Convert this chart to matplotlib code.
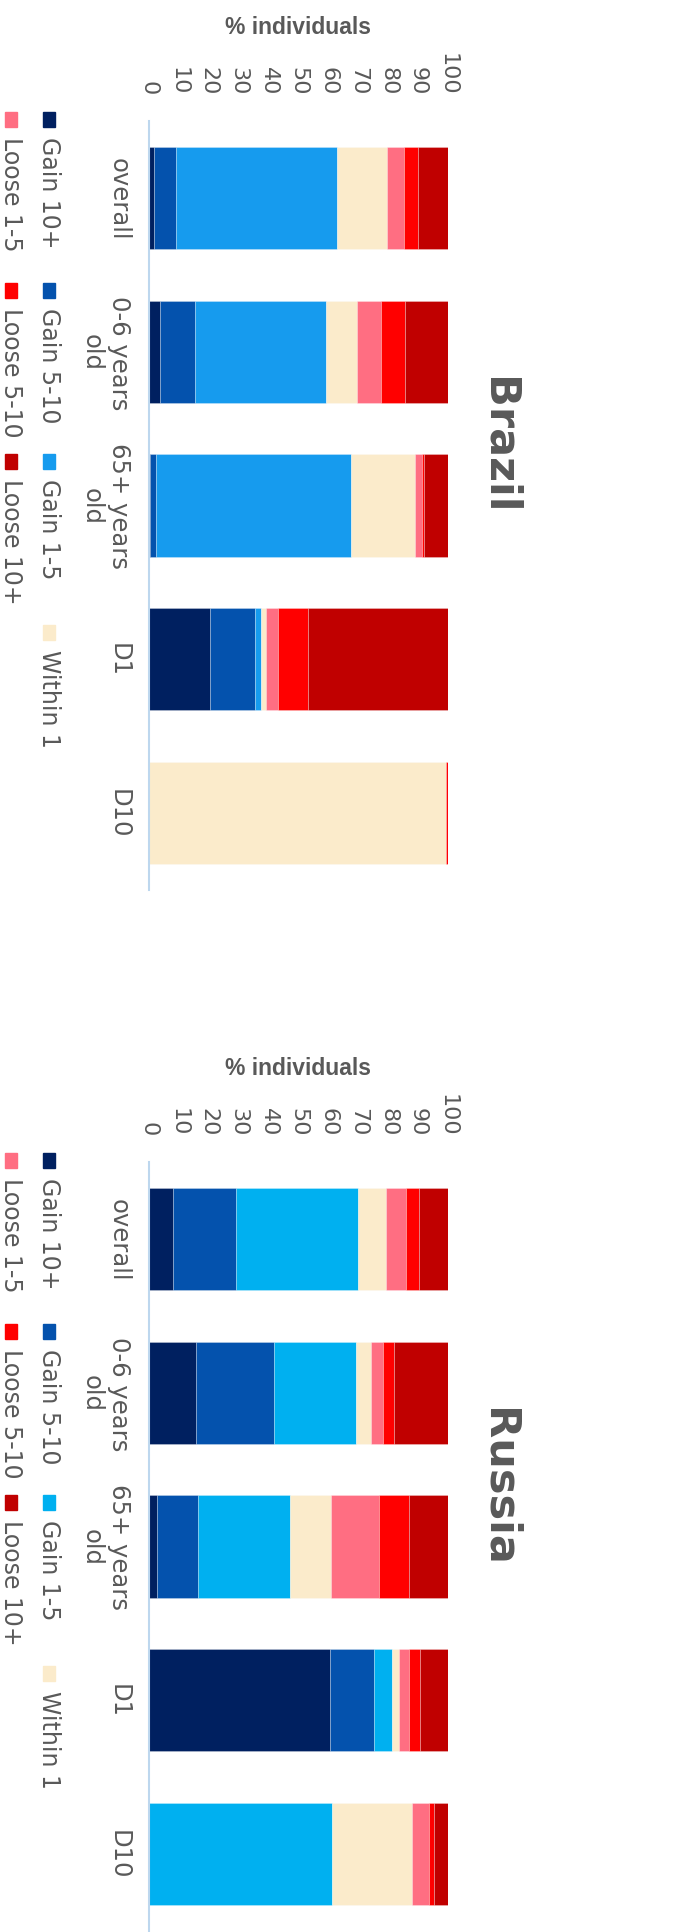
import matplotlib
matplotlib.use("Agg")
import matplotlib.pyplot as plt
import numpy as np
from matplotlib import font_manager
from matplotlib.patches import Rectangle

series = ["Gain 10+", "Gain 5-10", "Gain 1-5", "Within 1", "Loose 1-5", "Loose 5-10", "Loose 10+"]
categories = ["overall", "0-6 years\nold", "65+ years\nold", "D1", "D10"]
ticks = [0, 10, 20, 30, 40, 50, 60, 70, 80, 90, 100]

# % individuals, one value per category
brazil_gain_10 = [1.8, 3.8, 0.3, 20.4, 0.0]
brazil_gain_5_10 = [7.1, 11.6, 2.0, 15.1, 0.0]
brazil_gain_1_5 = [53.9, 43.8, 65.4, 1.9, 0.0]
brazil_within_1 = [16.7, 10.5, 21.2, 1.7, 99.3]
brazil_loose_1_5 = [5.9, 7.9, 2.3, 4.2, 0.0]
brazil_loose_5_10 = [4.7, 8.0, 0.9, 9.9, 0.7]
brazil_loose_10 = [9.9, 14.4, 7.9, 46.8, 0.0]

russia_gain_10 = [8.1, 15.8, 2.6, 60.4, 0.0]
russia_gain_5_10 = [21.0, 26.1, 13.9, 15.0, 0.0]
russia_gain_1_5 = [40.9, 27.2, 30.5, 5.8, 61.1]
russia_within_1 = [9.1, 5.0, 14.0, 2.3, 27.0]
russia_loose_1_5 = [7.0, 4.2, 15.9, 3.5, 5.5]
russia_loose_5_10 = [4.1, 3.5, 10.2, 3.8, 1.7]
russia_loose_10 = [9.8, 18.2, 12.8, 9.2, 4.7]

GREY = "#595959"
W, H = 695, 1933

names = {f.name for f in font_manager.fontManager.ttflist}
label_font = "Liberation Sans Narrow" if "Liberation Sans Narrow" in names else "Liberation Sans"
label_size = 18 if label_font == "Liberation Sans Narrow" else 16.5


def fx(x):
    return x / W


def fy(y):
    return 1 - y / H


def draw_panel(fig, top, title, rows, colors):
    # rotated chart: values run left->right, categories run downwards
    ax = fig.add_axes([fx(149), fy(top + 769), (448 - 149) / W, 769 / H])
    pos = np.arange(len(categories))
    left = np.zeros(len(categories))
    for vals, col in zip(rows, colors):
        ax.barh(pos, vals, left=left, height=0.665, color=col,
                edgecolor=(1, 1, 1, 0.3), linewidth=0.6)
        left += np.array(vals)
    ax.set_xlim(0, 100)
    ax.set_ylim(4.5, -0.5)
    for s in ["top", "right", "bottom"]:
        ax.spines[s].set_visible(False)
    ax.spines["left"].set_color("#BDD7EE")
    ax.spines["left"].set_linewidth(1.5)
    ax.xaxis.tick_top()
    ax.set_xticks(ticks)
    ax.tick_params(axis="x", length=0, pad=19, labelsize=16, labelcolor=GREY, labelrotation=270)
    ax.set_yticks(pos)
    ax.set_yticklabels(categories, rotation=270, va="center", ha="right",
                       fontsize=17.5, color=GREY, multialignment="center")
    ax.tick_params(axis="y", length=0, pad=13)

    fig.text(fx(298), fy(top - 88), "% individuals", ha="center", va="baseline",
             fontsize=label_size, fontweight="bold", color=GREY, family=label_font)
    fig.text(fx(498), fy(top + 324), title, rotation=270, ha="center", va="center",
             fontsize=31, fontweight="bold", color=GREY)

    # legend, two rows, drawn by hand since it is rotated
    for i, (name, col) in enumerate(zip(series, colors)):
        row, k = (0, i) if i < 4 else (1, i - 4)
        xc = 49 if row == 0 else 11
        y0 = top - 9 + k * 171
        fig.add_artist(Rectangle((fx(xc - 6), fy(y0 + 15)), 12 / W, 15 / H,
                                 transform=fig.transFigure, color=col))
        fig.text(fx(xc), fy(y0 + 24), name, rotation=270, ha="center", va="top",
                 fontsize=17, color=GREY)


fig = plt.figure(figsize=(W / 100, H / 100), dpi=100)

brazil = [brazil_gain_10, brazil_gain_5_10, brazil_gain_1_5, brazil_within_1,
          brazil_loose_1_5, brazil_loose_5_10, brazil_loose_10]
russia = [russia_gain_10, russia_gain_5_10, russia_gain_1_5, russia_within_1,
          russia_loose_1_5, russia_loose_5_10, russia_loose_10]

brazil_colors = ["#002060", "#0452AD", "#169BEE", "#FBEBCB", "#FF6E82", "#FF0000", "#C00000"]
russia_colors = ["#002060", "#0452AD", "#00B0F0", "#FBEBCB", "#FF6E82", "#FF0000", "#C00000"]

draw_panel(fig, 122, "Brazil", brazil, brazil_colors)
draw_panel(fig, 1163, "Russia", russia, russia_colors)

fig.savefig("out.png", dpi=100)
